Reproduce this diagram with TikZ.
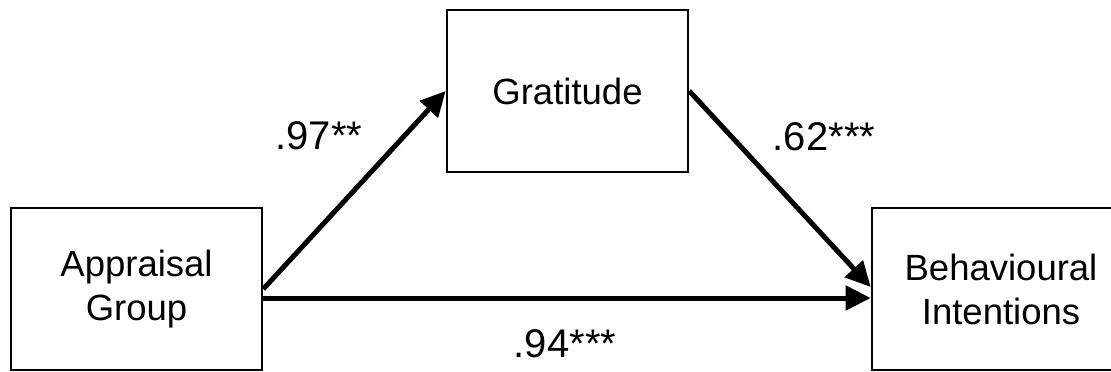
\documentclass[tikz,border=0pt]{standalone}
\usepackage{fontspec}
\setmainfont{Liberation Sans}
\usetikzlibrary{arrows.meta,calc}
\begin{document}
\begin{tikzpicture}[x=1pt,y=-1pt,
  box/.style={draw, line width=2.6pt, align=center, inner sep=0pt,
    font=\fontsize{36.5}{44}\selectfont},
  arr/.style={line width=5pt, -{Triangle[length=25pt,width=24pt]}},
  lbl/.style={font=\fontsize{40}{48}\selectfont, inner sep=0pt}]
\fill[white] (0,0) rectangle (1111,372);
\clip (0,0) rectangle (1111,372);
\node[box, minimum width=251pt, minimum height=162pt] (a) at (136.5,289) {Appraisal\\Group};
\node[box, minimum width=241pt, minimum height=162pt] (g) at (567.5,91) {Gratitude};
\node[box, minimum width=258pt, minimum height=162pt] (b) at (1001,289) {Behavioural\\Intentions};
\draw[arr] (a.east) -- (g.west);
\draw[arr] (g.east) -- ($(b.west)+(0,-2)$);
\draw[arr] ($(a.east)+(0,9)$) -- ($(b.west)+(0,9)$);
\node[lbl] (l1) at (319,136) {.97**};
\node[lbl] (l2) at (824,137) {.62***};
\node[lbl] (l3) at (565,344) {.94***};
\end{tikzpicture}
\end{document}
